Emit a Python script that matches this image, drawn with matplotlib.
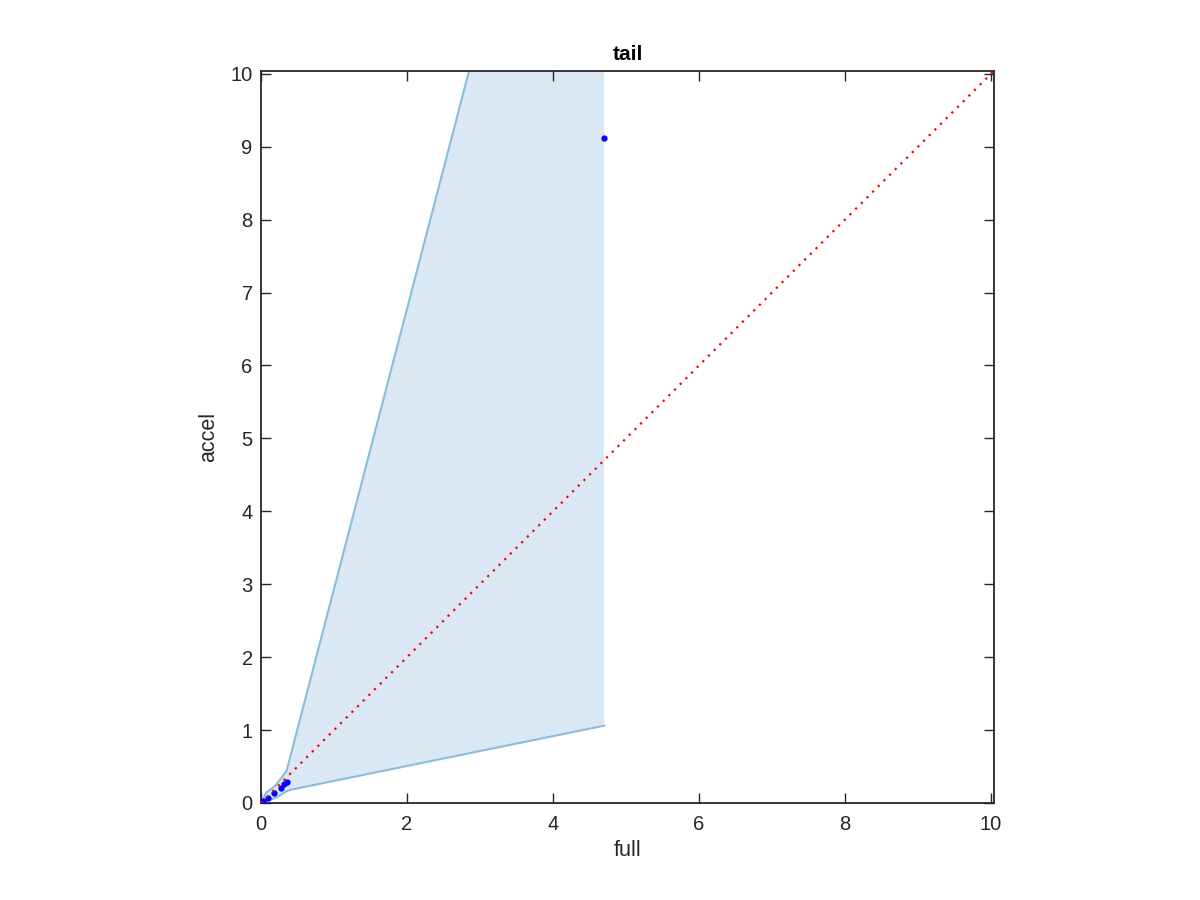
import matplotlib
matplotlib.use("Agg")
import matplotlib.pyplot as plt

# Data
upper_x = [0.0, 0.07, 0.20, 0.35, 2.85, 4.70]
upper_y = [0.0, 0.14, 0.24, 0.44, 10.04, 10.04]
lower_x = [0.0, 0.12, 0.22, 0.33, 0.40, 4.70]
lower_y = [0.0, 0.04, 0.08, 0.15, 0.18, 1.06]
pts_x = [0.0, 0.03, 0.09, 0.18, 0.27, 0.32, 0.35, 4.70]
pts_y = [0.0, 0.03, 0.07, 0.14, 0.21, 0.26, 0.29, 9.12]
lim = 10.04
diag = [0.0, lim]
xticks = [0, 2, 4, 6, 8, 10]
yticks = [0, 1, 2, 3, 4, 5, 6, 7, 8, 9, 10]

plt.rcParams['font.family'] = ['Liberation Sans', 'DejaVu Sans']
fig = plt.figure(figsize=(12, 9), dpi=100)
ax = fig.add_axes([0.2175, 0.1078, 0.6108, 0.8135])

fill_col = '#d9e8f3'
edge_col = '#88bde0'
poly_x = upper_x + lower_x[::-1]
poly_y = upper_y + lower_y[::-1]
ax.fill(poly_x, poly_y, color=fill_col, lw=0, zorder=1)
ax.plot(upper_x[:-1], upper_y[:-1], color=edge_col, lw=1.5, zorder=2)
ax.plot(lower_x, lower_y, color=edge_col, lw=1.5, zorder=2)
ax.plot(pts_x, pts_y, '.', color='blue', ms=7, zorder=3)
ax.plot(diag, diag, linestyle=(0, (1, 2.6)), color='red', lw=1.6, zorder=4)

ax.set_xlim(0, lim)
ax.set_ylim(0, lim)
ax.set_xticks(xticks)
ax.set_yticks(yticks)
ax.tick_params(direction='in', top=True, right=True, length=7, width=1,
               colors='#262626', labelsize=14.5, pad=6)
ax.tick_params(axis='x', pad=9)
for s in ax.spines.values():
    s.set_color('#262626')
    s.set_linewidth(1.3)
ax.set_xlabel('full', fontsize=15.5, color='#262626', labelpad=4)
ax.set_ylabel('accel', fontsize=15.5, color='#262626', labelpad=8)
ax.set_title('tail', fontsize=15, fontweight='bold', pad=8)

fig.savefig('out.png', dpi=100)
